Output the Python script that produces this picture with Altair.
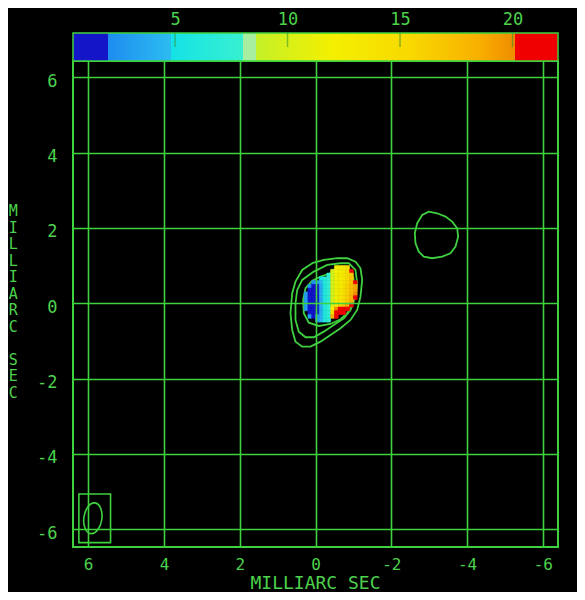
import altair as alt
import pandas as pd

# ---------------- data ----------------
TICKS_MAS = [6, 4, 2, 0, -2, -4, -6]
CBAR_TICKS = [5, 10, 15, 20]
CBAR_RANGE = [0.467, 22.02]

# colour table (value -> colour), read from the wedge
CMAP_V = [0.467, 2.0, 2.01, 4.8, 4.81, 8.0, 8.01, 8.6, 8.61, 12.0, 15.5, 18.5, 20.1, 20.11, 22.02]
CMAP_C = ["#1414c8", "#1414c8", "#1e8cf0", "#2cbcf0", "#14e2e6", "#38f0d0", "#a8eea0", "#a8eea0",
          "#c4f028", "#f4f000", "#f8d800", "#f8b000", "#f08c00", "#f00000", "#f00000"]

# colour image: cell centres (mas) and values (None = blank)
CELL = 0.1
GRID_X = [0.25, 0.15, 0.05, -0.05, -0.15, -0.25, -0.35, -0.45, -0.55, -0.65, -0.75, -0.85, -0.95, -1.05]
GRID_Y = [0.95, 0.85, 0.75, 0.65, 0.55, 0.45, 0.35, 0.25, 0.15, 0.05, -0.05, -0.15, -0.25, -0.35, -0.45]
N = None
BLOB = [
    [N, N, N, N, N, N, N, N, 12, 12.5, 13.5, 15, N, N],
    [N, N, N, N, N, N, N, 10, 12, 12.5, 13.5, 15, 21, N],
    [N, N, N, N, N, N, 7, 9.5, 11.5, 12.5, 13.5, 15, 16.5, N],
    [N, N, N, N, 5, 6.5, 7.5, 9.5, 11.5, 12.5, 13.5, 15, 17, N],
    [N, N, 2.5, 3, 4.5, 6.5, 7.5, 9.5, 11.5, 12.5, 14, 15.5, 17, 21],
    [N, 2.5, 1.5, 1.8, 3.8, 6, 7.5, 9.5, 11.5, 12.5, 14, 16, 17.5, 19],
    [N, 1.5, 1.2, 1.8, 3.8, 6, 7.5, 9.5, 11.5, 13, 14.5, 16, 17.5, 19],
    [3, 1.5, 1.2, 1.8, 3.8, 6, 7.5, 9.5, 11.5, 13, 14.5, 16, 18, 20],
    [3, 1.5, 1.2, 1.8, 3.8, 6, 7.5, 9.5, 11.5, 13, 14.5, 16, 18, 21],
    [3, 1.5, 1.2, 1.8, 3.8, 6, 7.5, 9.5, 12, 13.5, 15, 16.5, 18.5, N],
    [3, 1.5, 1.2, 1.8, 4, 6, 7.5, 10, 13, 15, 17, 19, 21, N],
    [3, 1.5, 1.2, 1.8, 4, 6, 7.5, 12, 20, 21, 21, 21, N, N],
    [N, 2, 1.2, 1.8, 4, 6, 7.5, 14, 21, 21, 21, N, N, N],
    [N, 3, 1.5, 2.5, 4, 6, 7, 18, 21, N, N, N, N, N],
    [N, N, N, 3, 4.5, 6, 7, N, N, N, N, N, N, N],
]

# contours (mas)
OUTER_X = [0.087, -0.219, -0.573, -0.836, -1.055, -1.187, -1.232, -1.187, -1.100, -0.923, -0.660,
           -0.396, -0.132, 0.132, 0.351, 0.528, 0.615, 0.660, 0.615, 0.528, 0.351]
OUTER_Y = [1.062, 1.149, 1.195, 1.195, 1.104, 0.929, 0.619, 0.175, -0.178, -0.443, -0.664,
           -0.842, -1.019, -1.152, -1.152, -1.019, -0.709, -0.265, 0.265, 0.573, 0.884]
MIDDLE_X = [0.045, -0.309, -0.660, -0.879, -1.055, -1.100, -1.055, -0.923, -0.747, -0.483, -0.219,
            0.045, 0.264, 0.441, 0.528, 0.528, 0.483, 0.351]
MIDDLE_Y = [0.839, 1.017, 1.062, 1.062, 0.884, 0.531, 0.175, -0.178, -0.398, -0.576, -0.754,
            -0.903, -0.903, -0.754, -0.443, 0.0, 0.353, 0.619]
INNER_X = [-0.396, -0.132, 0.087, 0.264, 0.325, 0.309, 0.177, -0.087, -0.396, -0.660, -0.850,
           -0.980, -1.030, -1.000, -0.850, -0.660, -0.483]
INNER_Y = [0.796, 0.706, 0.600, 0.398, 0.088, -0.265, -0.515, -0.603, -0.550, -0.425, -0.250,
           0.0, 0.353, 0.680, 0.900, 0.950, 0.880]
COMP2_X = [-2.989, -3.211, -3.430, -3.607, -3.739, -3.765, -3.694, -3.562, -3.343, -3.079, -2.858,
           -2.726, -2.639, -2.620, -2.683, -2.815]
COMP2_Y = [2.432, 2.389, 2.299, 2.166, 1.991, 1.768, 1.503, 1.327, 1.237, 1.195, 1.237,
           1.370, 1.593, 1.858, 2.124, 2.344]

# restoring beam and its box (mas)
BEAM_BOX = {"x0": 6.245, "x1": 5.409, "y0": -5.062, "y1": -6.355}
BEAM_X = [5.876]
BEAM_Y = [-5.707]

X_TITLE = "MILLIARC SEC"
Y_WORDS = X_TITLE.split(" ")          # stacked letters, word by word

# ---------------- style ----------------
GREEN = "#3fd13f"
TEXT = "#4cd24c"
FONT = "DejaVu Sans Mono"
LINE_H = 16.5

XS = alt.Scale(domain=[-6.4, 6.4], reverse=True, nice=False, zero=False)
YS = alt.Scale(domain=[-6.47, 6.43], nice=False, zero=False)
CS = alt.Scale(domain=CMAP_V, range=CMAP_C, interpolate="rgb")

common_ax = dict(values=TICKS_MAS, grid=True, gridColor=GREEN, gridWidth=1.6, gridOpacity=1,
                 ticks=False, tickSize=0, domain=False, labelColor=TEXT, labelFont=FONT,
                 labelFlush=False, labelExpr="'' + datum.value",
                 title=None, zindex=1)
XAX = alt.Axis(labelPadding=9, labelFontSize=16, **common_ax)
YAX = alt.Axis(labelPadding=16, labelOffset=4, labelFontSize=17, **common_ax)

# ---------------- frames ----------------
rows = []
for name, xs, ys in [("outer", OUTER_X, OUTER_Y), ("middle", MIDDLE_X, MIDDLE_Y),
                     ("inner", INNER_X, INNER_Y), ("comp2", COMP2_X, COMP2_Y)]:
    for k, (a, b) in enumerate(zip(xs, ys)):
        rows.append({"c": name, "k": k, "x": a, "y": b})
cont_df = pd.DataFrame(rows)

brows = []
for i, row in enumerate(BLOB):
    for j, v in enumerate(row):
        if v is not None:
            brows.append({"x0": GRID_X[j] + CELL / 2, "x1": GRID_X[j] - CELL / 2,
                          "y0": GRID_Y[i] + CELL / 2, "y1": GRID_Y[i] - CELL / 2, "v": v})
blob_df = pd.DataFrame(brows)

# ---------------- marks ----------------
cont = alt.Chart(cont_df).mark_line(interpolate="linear-closed", color=GREEN, strokeWidth=1.8).encode(
    x=alt.X("x:Q", scale=XS, axis=XAX),
    y=alt.Y("y:Q", scale=YS, axis=YAX),
    detail="c:N",
    order="k:Q",
)

blob = alt.Chart(blob_df).mark_rect(strokeWidth=0.6).encode(
    x=alt.X("x0:Q", scale=XS, axis=XAX), x2="x1:Q",
    y=alt.Y("y0:Q", scale=YS, axis=YAX), y2="y1:Q",
    color=alt.Color("v:Q", scale=CS, legend=None),
    stroke=alt.Stroke("v:Q", scale=CS, legend=None),
)

box = alt.Chart(pd.DataFrame([BEAM_BOX])).mark_rect(fillOpacity=0, stroke=GREEN, strokeWidth=1.6).encode(
    x=alt.X("x0:Q", scale=XS, axis=XAX), x2="x1:Q",
    y=alt.Y("y0:Q", scale=YS, axis=YAX), y2="y1:Q",
)

ELL_PATH = "M0,-1A0.58,1,0,1,1,0,1A0.58,1,0,1,1,0,-1Z"
ell = alt.Chart(pd.DataFrame({"x": BEAM_X, "y": BEAM_Y})).mark_point(
    shape=ELL_PATH, size=961, color=GREEN, strokeWidth=1.6, filled=False, angle=8, opacity=1
).encode(x=alt.X("x:Q", scale=XS, axis=XAX), y=alt.Y("y:Q", scale=YS, axis=YAX))

xtitle = alt.Chart(pd.DataFrame({"t": [X_TITLE]})).mark_text(
    font=FONT, fontSize=18, color=TEXT, align="center", baseline="middle"
).encode(text="t:N", x=alt.value(242.5), y=alt.value(523))

ytitle_layers = []
y_start = 143
for w in Y_WORDS:
    ytitle_layers.append(
        alt.Chart(pd.DataFrame({"t": ["|".join(w)]})).mark_text(
            font=FONT, fontSize=15, color=TEXT, align="center", baseline="top",
            lineBreak="|", lineHeight=LINE_H
        ).encode(text="t:N", x=alt.value(-59.7), y=alt.value(y_start))
    )
    y_start += (len(w) + 1) * LINE_H

main = alt.layer(cont, blob, box, ell, xtitle, *ytitle_layers)

# colour wedge
lo, hi = CBAR_RANGE
CBS = alt.Scale(domain=CBAR_RANGE, nice=False, zero=False)
CBAX = alt.Axis(orient="top", offset=28, values=CBAR_TICKS, ticks=False, tickSize=0, domain=False,
                grid=False, labelColor=TEXT, labelFont=FONT, labelFontSize=17, labelPadding=5,
                labelFlush=False, title=None)
grad = alt.LinearGradient(
    gradient="linear",
    stops=[alt.GradientStop(color=c, offset=min(1.0, max(0.0, (v - lo) / (hi - lo)))) for v, c in zip(CMAP_V, CMAP_C)],
    x1=0, x2=1, y1=0, y2=0,
)
cb_rect = alt.Chart(pd.DataFrame({"a": [lo], "b": [hi]})).mark_rect(
    color=grad, stroke=GREEN, strokeWidth=1.5
).encode(x=alt.X("a:Q", scale=CBS, axis=CBAX), x2="b:Q", y=alt.value(-28), y2=alt.value(0))
cb_ticks = alt.Chart(pd.DataFrame({"t": CBAR_TICKS})).mark_rule(
    color="#2f8f2f", strokeWidth=1.5, opacity=0.55
).encode(x=alt.X("t:Q", scale=CBS, axis=CBAX), y=alt.value(-28), y2=alt.value(-14))
cbar = alt.layer(cb_rect, cb_ticks)

chart = alt.layer(main, cbar).resolve_scale(x="independent").properties(
    width=485, height=486,
    autosize=alt.AutoSizeParams(type="none"),
    padding={"left": 65, "top": 53, "right": 19, "bottom": 45},
    background="black",
).configure_view(stroke=GREEN, strokeWidth=2)

chart.save("out.html", embed_options={"renderer": "svg", "actions": False})
